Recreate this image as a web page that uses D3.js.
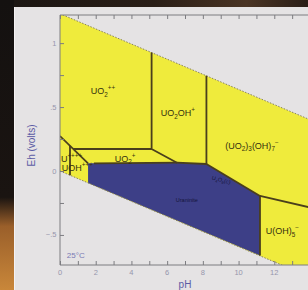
<!DOCTYPE html>
<html lang="en">
<head>
    <meta charset="UTF-8">
    <title>Uranium Eh-pH</title>
    <script src="https://d3js.org/d3.v7.min.js"></script>
    <style>
        body { margin: 0; background: #1c1714; }
        svg { display: block; }
    </style>
</head>
<body>
<script>
    const width  = 308;
    const height = 290;

    // water stability limits (pH, Eh)
    const waterTop    = [[0, 1.23], [14, 0.401]];
    const waterBottom = [[0, 0], [14, -0.829]];

    // predominance fields (pH, Eh)
    const yellowField = [[0, 1.23], [14, 0.401], [14, -0.829], [0, 0]];
    const blueField   = [[1.57, 0.06], [6.55, 0.065], [8.2, 0.055], [11.2, -0.195],
                         [11.2, -0.661], [1.57, -0.093]];

    // boundaries (pH, Eh)
    const boundaries = [
        [[0, 0.273], [1.57, 0.06]],
        [[0.74, 0.172], [5.13, 0.172]],
        [[5.13, 0.927], [5.13, 0.172], [6.55, 0.065], [8.2, 0.055], [11.2, -0.195], [14, -0.285]],
        [[8.2, 0.745], [8.2, 0.055]],
        [[11.2, -0.195], [11.2, -0.661]],
        [[0.56, 0.197], [0.56, -0.033]],
        [[1.9, 0.06], [6.55, 0.065]]
    ];

    // labels: text parts [text, 'n'|'sub'|'sup']
    const fieldLabels = [
        {ph: 2.41, eh: 0.60, anchor: "middle", parts: [["UO", "n"], ["2", "sub"], ["++", "sup"]]},
        {ph: 6.6,  eh: 0.43, anchor: "middle", parts: [["UO", "n"], ["2", "sub"], ["OH", "n"], ["+", "sup"]]},
        {ph: 10.75, eh: 0.175, anchor: "middle", parts: [["(UO", "n"], ["2", "sub"], [")", "n"], ["3", "sub"], ["(OH)", "n"], ["7", "sub"], ["−", "sup"]]},
        {ph: 3.64, eh: 0.073, anchor: "middle", parts: [["UO", "n"], ["2", "sub"], ["+", "sup"]]},
        {ph: 0.05, eh: 0.072, anchor: "start", parts: [["U", "n"], ["++++", "sup"]]},
        {ph: 0.1,  eh: -0.002, anchor: "start", parts: [["UOH", "n"], ["+++", "sup"]]},
        {ph: 12.45, eh: -0.495, anchor: "middle", parts: [["U(OH)", "n"], ["5", "sub"], ["−", "sup"]]}
    ];
    const solidLabels = [
        {ph: 9.0, eh: -0.085, angle: 14, parts: [["U", "n"], ["4", "sub"], ["O", "n"], ["9", "sub"], ["(c)", "n"]]},
        {ph: 7.1, eh: -0.24, angle: 0, parts: [["Uraninite", "n"]]}
    ];

    const phTicks = [0, 2, 4, 6, 8, 10, 12];
    const ehTicks = [-0.5, 0, 0.5, 1];
    const ehTickLabels = ["\u2212.5", "0", ".5", "1"];

    const x = d3.scaleLinear().domain([0, 14]).range([60, 310]);
    const y = d3.scaleLinear().domain([-0.735, 1.22]).range([265, 15]);

    const svg = d3.select("body")
            .append("svg")
            .attr("width", width)
            .attr("height", height);

    // photo surroundings
    const defs = svg.append("defs");
    const lg = defs.append("linearGradient").attr("id", "leftStrip")
            .attr("x1", 0).attr("y1", 0).attr("x2", 0).attr("y2", 1);
    lg.append("stop").attr("offset", "0").attr("stop-color", "#141110");
    lg.append("stop").attr("offset", "0.68").attr("stop-color", "#1a1411");
    lg.append("stop").attr("offset", "0.78").attr("stop-color", "#9a5f2a");
    lg.append("stop").attr("offset", "1").attr("stop-color", "#c9873a");
    const tg = defs.append("linearGradient").attr("id", "topStrip")
            .attr("x1", 0).attr("y1", 0).attr("x2", 1).attr("y2", 0);
    tg.append("stop").attr("offset", "0").attr("stop-color", "#1a1512");
    tg.append("stop").attr("offset", "0.5").attr("stop-color", "#2a1e17");
    tg.append("stop").attr("offset", "0.8").attr("stop-color", "#4a3424");
    tg.append("stop").attr("offset", "1").attr("stop-color", "#2a1e17");

    svg.append("rect").attr("width", width).attr("height", height).attr("fill", "#1c1714");
    svg.append("rect").attr("width", width).attr("height", 8).attr("fill", "url(#topStrip)");
    svg.append("rect").attr("width", 14).attr("height", height).attr("fill", "url(#leftStrip)");
    svg.append("rect").attr("x", 14).attr("y", 7).attr("width", width - 14).attr("height", height - 7)
            .attr("fill", "#e5e3e4");
    svg.append("line").attr("x1", 14.5).attr("x2", 14.5).attr("y1", 7).attr("y2", height)
            .attr("stroke", "#f4f2f3").attr("stroke-width", 1);

    defs.append("clipPath").attr("id", "plotClip")
        .append("rect").attr("x", x(0)).attr("y", y(1.22))
        .attr("width", x(14) - x(0)).attr("height", y(-0.735) - y(1.22));

    const line = d3.line().x(d => x(d[0])).y(d => y(d[1]));
    const g = svg.append("g").attr("clip-path", "url(#plotClip)");

    g.append("path").datum(yellowField)
        .attr("d", d => line(d) + "Z")
        .attr("fill", "#efeb3c");
    g.append("path").datum(blueField)
        .attr("d", d => line(d) + "Z")
        .attr("fill", "#3d3f87");

    g.selectAll(".water").data([waterTop, waterBottom]).enter()
        .append("path")
        .attr("d", line)
        .attr("fill", "none")
        .attr("stroke", "#8a8458")
        .attr("stroke-width", 1)
        .attr("stroke-dasharray", "1.5,1.5");

    g.selectAll(".bound").data(boundaries).enter()
        .append("path")
        .attr("d", line)
        .attr("fill", "none")
        .attr("stroke", "#4a3f1c")
        .attr("stroke-width", 1.8)
        .attr("stroke-linejoin", "round");

    function addLabel(parent, d, size, color) {
        const t = parent.append("text")
            .attr("text-anchor", d.anchor || "middle")
            .attr("font-family", "Liberation Sans, Arial, sans-serif")
            .attr("font-size", size)
            .attr("fill", color);
        if (d.angle) {
            t.attr("transform", "translate(" + [x(d.ph), y(d.eh)] + ") rotate(" + d.angle + ")");
        } else {
            t.attr("x", x(d.ph)).attr("y", y(d.eh));
        }
        let shift = 0;
        d.parts.forEach(p => {
            const s = t.append("tspan").text(p[0]);
            const want = p[1] === "sub" ? size * 0.3 : p[1] === "sup" ? -size * 0.45 : 0;
            if (p[1] !== "n") s.attr("font-size", size * 0.7);
            s.attr("dy", want - shift);
            shift = want;
        });
    }

    fieldLabels.forEach(d => addLabel(g, d, 9, "#34300e"));
    solidLabels.forEach(d => addLabel(g, d, 5.5, "#15153a"));

    // axes frame
    const axisColor = "#7c7c80";
    svg.append("line").attr("x1", x(0)).attr("x2", x(0)).attr("y1", y(1.22)).attr("y2", y(-0.735))
        .attr("stroke", axisColor);
    svg.append("line").attr("x1", x(0)).attr("x2", x(14)).attr("y1", y(1.22)).attr("y2", y(1.22))
        .attr("stroke", axisColor);
    svg.append("line").attr("x1", x(0)).attr("x2", x(14)).attr("y1", y(-0.735)).attr("y2", y(-0.735))
        .attr("stroke", axisColor);

    const xAxisB = d3.axisBottom(x).tickValues(d3.range(0, 15)).tickSize(-4).tickFormat("");
    const xAxisT = d3.axisTop(x).tickValues(d3.range(0, 15)).tickSize(-4).tickFormat("");
    const yAxisL = d3.axisLeft(y).tickValues(d3.range(-0.5, 1.01, 0.25)).tickSize(-4).tickFormat("");

    [svg.append("g").attr("transform", "translate(0," + y(-0.735) + ")").call(xAxisB),
     svg.append("g").attr("transform", "translate(0," + y(1.22) + ")").call(xAxisT),
     svg.append("g").attr("transform", "translate(" + x(0) + ",0)").call(yAxisL)]
        .forEach(a => {
            a.select(".domain").remove();
            a.selectAll("line").attr("stroke", axisColor);
        });

    svg.selectAll(".phlab").data(phTicks).enter()
        .append("text")
        .attr("x", d => x(d))
        .attr("y", y(-0.735) + 10)
        .attr("text-anchor", "middle")
        .attr("font-family", "Liberation Sans, Arial, sans-serif")
        .attr("font-size", 7.5)
        .attr("fill", "#9696ac")
        .text(d => d);

    svg.selectAll(".ehlab").data(ehTicks).enter()
        .append("text")
        .attr("x", x(0) - 3.5)
        .attr("y", d => y(d) + 2.5)
        .attr("text-anchor", "end")
        .attr("font-family", "Liberation Sans, Arial, sans-serif")
        .attr("font-size", 7.5)
        .attr("fill", "#9696ac")
        .text((d, i) => ehTickLabels[i]);

    svg.append("text")
        .attr("x", (x(0) + x(14)) / 2)
        .attr("y", 288)
        .attr("text-anchor", "middle")
        .attr("font-family", "Liberation Sans, Arial, sans-serif")
        .attr("font-size", 10)
        .attr("fill", "#5c5ca4")
        .text("pH");

    svg.append("text")
        .attr("transform", "translate(35," + (y(0.2)) + ") rotate(-90)")
        .attr("text-anchor", "middle")
        .attr("font-family", "Liberation Sans, Arial, sans-serif")
        .attr("font-size", 10)
        .attr("fill", "#5c5ca4")
        .text("Eh (volts)");

    svg.append("text")
        .attr("x", x(0.38))
        .attr("y", y(-0.68))
        .attr("font-family", "Liberation Sans, Arial, sans-serif")
        .attr("font-size", 8)
        .attr("fill", "#7a7ab4")
        .text("25\u00b0C");
</script>
</body>
</html>
